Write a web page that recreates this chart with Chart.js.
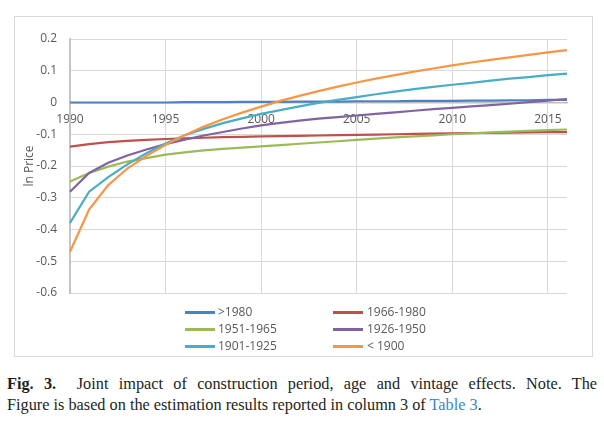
<!DOCTYPE html>
<html><head><meta charset="utf-8">
<script src="https://cdn.jsdelivr.net/npm/chart.js@4.4.0/dist/chart.umd.min.js"></script>
<style>
html,body{margin:0;padding:0;background:#fff;width:604px;height:426px;overflow:hidden;position:relative;}
#frame{position:absolute;left:14px;top:16px;width:579px;height:341px;border:1px solid #d9d9d9;box-sizing:border-box;}
#frame canvas{display:block;}
.lg-line{position:absolute;width:30px;height:3px;}
.lg-text{position:absolute;font-family:'Open Sans',sans-serif;font-size:12px;color:#595959;line-height:16px;white-space:nowrap;}
.cap{position:absolute;left:7px;font-family:'Liberation Serif',serif;color:#231f20;line-height:21px;white-space:nowrap;}
#cap1{width:590px;text-align:justify;text-align-last:justify;white-space:normal;}
#cap1 b{font-weight:bold;}
.tbl{color:#3d85c6;}
</style>
</head><body>
<div id="frame"><canvas id="c" width="577" height="339"></canvas></div>
<div id="legend"></div>
<div class="cap" id="cap1" style="top:374px"><b>Fig. 3.</b>&nbsp; Joint impact of construction period, age and vintage effects. Note. The</div>
<div class="cap" id="cap2" style="top:395px"><span id="cap2s">Figure is based on the estimation results reported in column 3 of <span class="tbl">Table 3</span>.</span></div>
<script>
const years = ['1990','1991','1992','1993','1994','1995','1996','1997','1998','1999','2000','2001','2002','2003','2004','2005','2006','2007','2008','2009','2010','2011','2012','2013','2014','2015','2016'];
const seriesNames = ['>1980','1966-1980','1951-1965','1926-1950','1901-1925','< 1900'];
const after1980 = [0.000,0.000,0.000,0.000,0.000,0.000,0.001,0.001,0.001,0.002,0.002,0.002,0.003,0.003,0.003,0.004,0.004,0.004,0.005,0.005,0.005,0.006,0.006,0.007,0.007,0.008,0.008];
const p1966to1980 = [-0.139,-0.131,-0.125,-0.121,-0.118,-0.115,-0.113,-0.111,-0.109,-0.108,-0.107,-0.106,-0.105,-0.104,-0.103,-0.102,-0.101,-0.100,-0.099,-0.098,-0.097,-0.096,-0.096,-0.095,-0.094,-0.093,-0.093];
const p1951to1965 = [-0.249,-0.222,-0.202,-0.186,-0.175,-0.164,-0.157,-0.151,-0.146,-0.142,-0.138,-0.134,-0.130,-0.126,-0.122,-0.118,-0.114,-0.110,-0.107,-0.104,-0.100,-0.097,-0.094,-0.092,-0.089,-0.087,-0.085];
const p1926to1950 = [-0.281,-0.222,-0.190,-0.167,-0.148,-0.131,-0.117,-0.104,-0.093,-0.082,-0.072,-0.064,-0.057,-0.051,-0.046,-0.041,-0.036,-0.031,-0.026,-0.021,-0.017,-0.012,-0.008,-0.004,0.001,0.006,0.011];
const p1901to1925 = [-0.379,-0.281,-0.235,-0.195,-0.160,-0.129,-0.103,-0.083,-0.065,-0.050,-0.036,-0.024,-0.012,-0.001,0.008,0.017,0.026,0.034,0.042,0.049,0.056,0.062,0.069,0.075,0.080,0.086,0.091];
const before1900 = [-0.470,-0.337,-0.260,-0.208,-0.168,-0.133,-0.103,-0.076,-0.053,-0.032,-0.013,0.005,0.021,0.036,0.050,0.063,0.075,0.086,0.097,0.107,0.117,0.126,0.134,0.142,0.150,0.158,0.165];
const yTicks = [0.2,0.1,0,-0.1,-0.2,-0.3,-0.4,-0.5,-0.6];

const seriesValues = [after1980,p1966to1980,p1951to1965,p1926to1950,p1901to1925,before1900];
const colors = ['#4F81BD','#C0504D','#9BBB59','#8064A2','#4BACC6','#F79646'];

Chart.defaults.font.family = "'Open Sans', sans-serif";
Chart.defaults.font.size = 12;
Chart.defaults.color = '#595959';

const datasets = seriesNames.map((n,i)=>({
  label:n, data:seriesValues[i], borderColor:colors[i], backgroundColor:colors[i],
  borderWidth:2.2, pointRadius:0, tension:0, fill:false, order:seriesNames.length-i
}));

new Chart(document.getElementById('c'), {
  type:'line',
  data:{labels:years, datasets},
  options:{
    responsive:false, animation:false,
    layout:{padding:{left:0,top:22,right:25,bottom:63}},
    plugins:{legend:{display:false}, tooltip:{enabled:false}},
    scales:{
      x:{
        position:{y:0},
        grid:{color:'#d9d9d9', lineWidth:1, drawTicks:false},
        border:{display:true, color:'#bfbfbf', width:1.5},
        ticks:{autoSkip:false, maxRotation:0, padding:10, color:'#595959',
          callback:function(v,i){ return i%5===0 ? years[i] : null; }}
      },
      y:{
        min:-0.6, max:0.2,
        afterFit:(s)=>{ s.width = 55; },
        afterBuildTicks:(s)=>{ s.ticks = yTicks.map(v=>({value:v})); },
        grid:{color:'#d9d9d9', lineWidth:1, drawTicks:false},
        border:{display:true, color:'#c4c4c4', width:2},
        ticks:{padding:13, color:'#595959', callback:(v)=>String(Number(v.toFixed(1)))},
        title:{display:true, text:'ln Price', color:'#595959', font:{size:12}, padding:{top:7,bottom:0}}
      }
    }
  }
});

// HTML legend in two columns
const lg = document.getElementById('legend');
const colLine = [185,333], colText = [218,367], rowY = [312,329,346];
seriesNames.forEach((n,i)=>{
  const c = i%2, r = Math.floor(i/2);
  const l = document.createElement('div'); l.className='lg-line';
  l.style.left=colLine[c]+'px'; l.style.top=(rowY[r]-1.5)+'px'; l.style.background=colors[i];
  const t = document.createElement('div'); t.className='lg-text';
  t.style.left=colText[c]+'px'; t.style.top=(rowY[r]-8)+'px'; t.textContent=n;
  lg.appendChild(l); lg.appendChild(t);
});

// caption font sizing
const s2 = document.getElementById('cap2s');
let fs = 15;
document.getElementById('cap2').style.fontSize = fs+'px';
const w = s2.getBoundingClientRect().width;
fs = fs*475/w;
document.getElementById('cap2').style.fontSize = fs+'px';
document.getElementById('cap1').style.fontSize = fs+'px';
</script>
</body></html>
